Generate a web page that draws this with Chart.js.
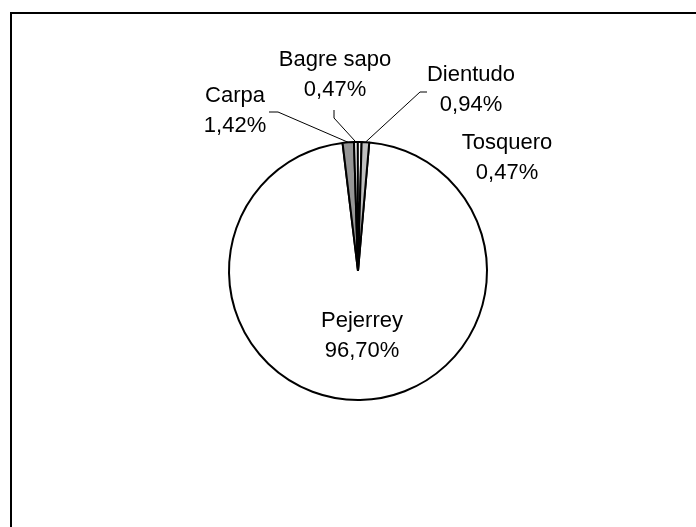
<!DOCTYPE html>
<html>
<head>
<meta charset="utf-8">
<script src="https://cdn.jsdelivr.net/npm/chart.js@4.4.0/dist/chart.umd.min.js"></script>
<style>
  html, body { margin: 0; padding: 0; background: #fff; }
  #wrap { position: relative; width: 696px; height: 527px; overflow: hidden; }
  #frame {
    position: absolute; left: 10px; top: 12px; width: 800px; height: 600px;
    border-left: 2px solid #000; border-top: 2px solid #000;
  }
  canvas { position: absolute; left: 0; top: 0; }
</style>
</head>
<body>
<div id="wrap">
  <div id="frame"></div>
  <canvas id="chart" width="696" height="527"></canvas>
</div>
<script>
// Species share of the catch (%), clockwise from the top
const species = ["Pejerrey", "Carpa", "Bagre sapo", "Tosquero", "Dientudo"];
const shares = [96.70, 1.42, 0.47, 0.47, 0.94];
const sliceColors = ["#ffffff", "#969696", "#ffffff", "#ffffff", "#c0c0c0"];

// Label placement relative to the pie centre (px); elbow = leader line bend points
const labelLayout = [
  { dx: 4, dy: 65, elbow: null },
  { dx: -123, dy: -160, elbow: [[-89, -159], [-80, -159]] },
  { dx: -23, dy: -196, elbow: [[-24, -161], [-24, -153]] },
  { dx: 149, dy: -113, elbow: null },
  { dx: 113, dy: -181, elbow: [[69, -179], [62, -179]] }
];

const FONT = "22px 'Liberation Sans', Arial, sans-serif";
const LINE_H = 30;

function fmtPct(v) {
  return v.toFixed(2).replace(".", ",") + "%";
}

const pieLabels = {
  id: "pieLabels",
  afterDatasetsDraw(chart) {
    const ctx = chart.ctx;
    const meta = chart.getDatasetMeta(0);
    ctx.save();
    ctx.font = FONT;
    ctx.fillStyle = "#000";
    ctx.textAlign = "center";
    ctx.textBaseline = "middle";
    meta.data.forEach((arc, i) => {
      const lay = labelLayout[i];
      const cx = arc.x, cy = arc.y;
      // leader line from label to the middle of the slice's outer edge
      if (lay.elbow) {
        const mid = (arc.startAngle + arc.endAngle) / 2;
        const ex = cx + Math.cos(mid) * arc.outerRadius;
        const ey = cy + Math.sin(mid) * arc.outerRadius;
        ctx.beginPath();
        ctx.strokeStyle = "#000";
        ctx.lineWidth = 1;
        ctx.moveTo(cx + lay.elbow[0][0], cy + lay.elbow[0][1]);
        ctx.lineTo(cx + lay.elbow[1][0], cy + lay.elbow[1][1]);
        ctx.lineTo(ex, ey);
        ctx.stroke();
      }
      const tx = cx + lay.dx, ty = cy + lay.dy;
      ctx.fillText(species[i], tx, ty - LINE_H / 2);
      ctx.fillText(fmtPct(shares[i]), tx, ty + LINE_H / 2);
    });
    ctx.restore();
  }
};

new Chart(document.getElementById("chart"), {
  type: "pie",
  data: {
    labels: species,
    datasets: [{
      data: shares,
      backgroundColor: sliceColors,
      borderColor: "#000",
      borderWidth: 2,
      hoverOffset: 0
    }]
  },
  options: {
    responsive: false,
    animation: false,
    rotation: 5,
    layout: { padding: { left: 228, right: 208, top: 141, bottom: 126 } },
    plugins: {
      legend: { display: false },
      tooltip: { enabled: false }
    }
  },
  plugins: [pieLabels]
});
</script>
</body>
</html>
